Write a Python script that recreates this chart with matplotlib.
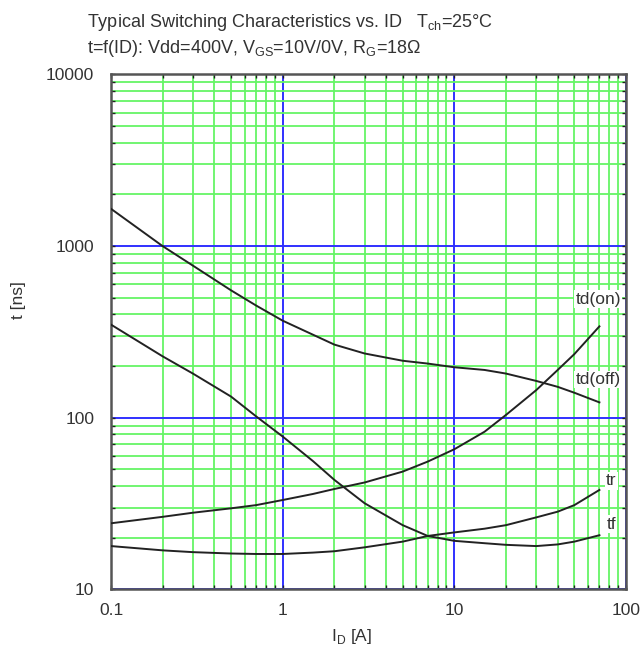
import matplotlib
matplotlib.use('Agg')
import matplotlib.pyplot as plt
from matplotlib.ticker import NullFormatter

plt.rcParams['font.family'] = ['Liberation Sans', 'DejaVu Sans']

# drain current [A]
i_d = [0.1, 0.2, 0.3, 0.5, 0.7, 1, 1.5, 2, 3, 5, 7, 10, 15, 20, 30, 40, 50, 70]

# switching times [ns]
td_off = [1650, 1000, 770, 553, 451, 368, 305, 267, 237, 215, 207, 197, 190, 181, 164, 151.5, 140, 123]
td_on = [24.3, 26.5, 28, 29.7, 31, 33.2, 36, 38.5, 42, 48.6, 55.6, 65.6, 83, 104, 145, 190, 235, 341]
tf = [349, 228, 181, 133, 102, 77.8, 56, 43.5, 31.8, 23.7, 20.5, 19.2, 18.6, 18.2, 17.9, 18.3, 19.0, 20.7]
tr = [17.9, 16.9, 16.5, 16.2, 16.1, 16.1, 16.4, 16.7, 17.6, 19.0, 20.5, 21.5, 22.6, 23.7, 26.3, 28.4, 31, 38]

curve_names = ['td(on)', 'td(off)', 'tr', 'tf']
label_pos = [(69, 490), (69, 167), (82, 43), (82, 24)]

x_ticks = [0.1, 1, 10, 100]
x_tick_labels = ['0.1', '1', '10', '100']
y_ticks = [10, 100, 1000, 10000]
y_tick_labels = ['10', '100', '1000', '10000']

txt = '#333333'

fig = plt.figure(figsize=(6.42, 6.51), dpi=100)
ax = fig.add_axes([0.1729, 0.0945, 0.8022, 0.7911])
ax.set_xscale('log')
ax.set_yscale('log')
ax.set_xlim(0.1, 100)
ax.set_ylim(10, 10000)

ax.grid(which='minor', color='#66f466', lw=1.3, zorder=0)
ax.grid(which='major', color='#3030ff', lw=1.4, zorder=0)
ax.set_axisbelow(True)

for y in (td_on, td_off, tr, tf):
    ax.plot(i_d, y, color='#222222', lw=1.4, zorder=3)

for name, (lx, ly) in zip(curve_names, label_pos):
    ax.text(lx, ly, name, ha='center', va='center', fontsize=12.5, color=txt,
            zorder=4, bbox=dict(facecolor='white', edgecolor='none', pad=1))

ax.set_xticks(x_ticks)
ax.set_xticklabels(x_tick_labels)
ax.set_yticks(y_ticks)
ax.set_yticklabels(y_tick_labels)
ax.xaxis.set_minor_formatter(NullFormatter())
ax.yaxis.set_minor_formatter(NullFormatter())
ax.tick_params(which='both', direction='in', top=True, right=True,
               length=3, width=1, color='#222222')
ax.tick_params(axis='x', which='major', pad=10, labelsize=12.5, labelcolor=txt)
ax.tick_params(axis='y', which='major', pad=12, labelsize=12.5, labelcolor=txt)

for sp in ax.spines.values():
    sp.set_color('#555555')
    sp.set_linewidth(1.8)

fig.text(352 / 642, 1 - 636 / 651, r'I$_\mathregular{D}$ [A]', ha='center',
         va='center', fontsize=12.5, color=txt)
fig.text(18 / 642, 1 - 300 / 651, 't [ns]', ha='center', va='center',
         rotation=90, fontsize=12.5, color=txt)

fig.text(87 / 642, 1 - 27 / 651,
         r'Typical Switching Characteristics vs. ID   T$_\mathregular{ch}$=25°C',
         ha='left', va='baseline', fontsize=13, color=txt)
fig.text(87 / 642, 1 - 53 / 651,
         r't=f(ID): Vdd=400V, V$_\mathregular{GS}$=10V/0V, R$_\mathregular{G}$=18Ω',
         ha='left', va='baseline', fontsize=13, color=txt)

fig.savefig('out.png', dpi=100)
